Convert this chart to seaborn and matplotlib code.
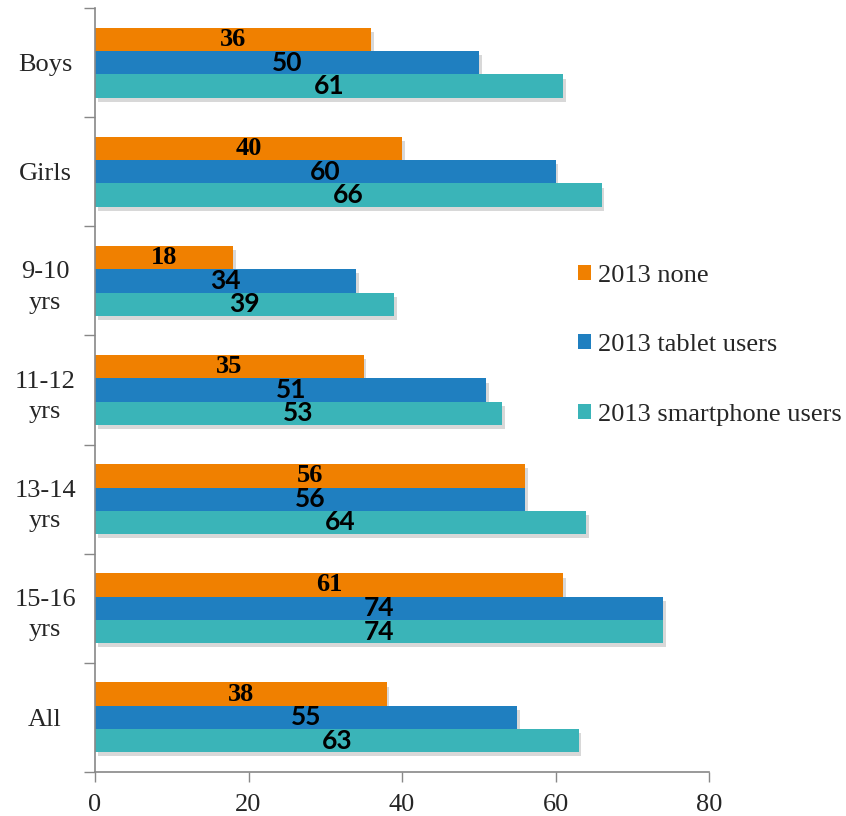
import matplotlib
matplotlib.use('Agg')
import matplotlib.pyplot as plt
import matplotlib.patheffects as pe
import seaborn as sns
import numpy as np
import pandas as pd

# Data
groups = ['Boys', 'Girls', '9-10\nyrs', '11-12\nyrs', '13-14\nyrs', '15-16\nyrs', 'All']
series = ['2013 none', '2013 tablet users', '2013 smartphone users']
none_vals = [36, 40, 18, 35, 56, 61, 38]
tablet_vals = [50, 60, 34, 51, 56, 74, 55]
smart_vals = [61, 66, 39, 53, 64, 74, 63]
colors = ['#F08000', '#1F7FC0', '#3AB4B8']

df = pd.DataFrame({
    'group': groups * 3,
    'series': [series[0]] * 7 + [series[1]] * 7 + [series[2]] * 7,
    'value': none_vals + tablet_vals + smart_vals,
})

sns.set_style('white')
plt.rcParams['font.family'] = ['Liberation Serif', 'DejaVu Serif']

fig = plt.figure(figsize=(8.46, 8.16), dpi=100)
ax = fig.add_axes([0.1123, 0.054, 0.7258, 0.936])

sns.barplot(data=df, y='group', x='value', hue='series', order=groups,
            hue_order=series, palette=colors, orient='h', width=0.64,
            gap=0, saturation=1, linewidth=0, ax=ax, legend=True, errorbar=None)

# soft drop shadow like the original
shadow = [pe.SimplePatchShadow(offset=(2, -3), alpha=0.3, shadow_rgbFace='gray'), pe.Normal()]
for i, cont in enumerate(ax.containers):
    for p in cont.patches:
        p.set_path_effects(shadow)
    if i == 0:
        ax.bar_label(cont, label_type='center', fontsize=19, fontweight='bold',
                     family='Liberation Serif', color='black')
    else:
        ax.bar_label(cont, label_type='center', fontsize=19, fontweight='bold',
                     family='Lato', color='black')

ax.set_xlim(0, 80)
ax.set_ylim(6.5, -0.5)
ax.set_xticks([0, 20, 40, 60, 80])
ax.tick_params(axis='x', labelsize=19, length=7, width=1, color='#888888',
               direction='out', bottom=True, pad=9)
ax.set_yticks(range(len(groups)))
ax.set_yticklabels(groups, ha='center', multialignment='center', fontsize=19,
                   linespacing=1.5)
ax.tick_params(axis='y', which='major', length=0, pad=36)
ax.set_yticks(np.arange(-0.5, 7, 1), minor=True)
ax.tick_params(axis='y', which='minor', length=8, width=1, color='#888888', left=True)
ax.set_xlabel('')
ax.set_ylabel('')

for s in ['top', 'right']:
    ax.spines[s].set_visible(False)
for s in ['left', 'bottom']:
    ax.spines[s].set_color('#888888')
    ax.spines[s].set_linewidth(1.2)

ax.legend(loc='upper left', bbox_to_anchor=(0.787, 0.664), frameon=False,
          fontsize=19, handlelength=0.5, handleheight=0.5, handletextpad=0.25,
          labelspacing=1.8, borderaxespad=0, borderpad=0)

fig.savefig('out.png', dpi=100)
